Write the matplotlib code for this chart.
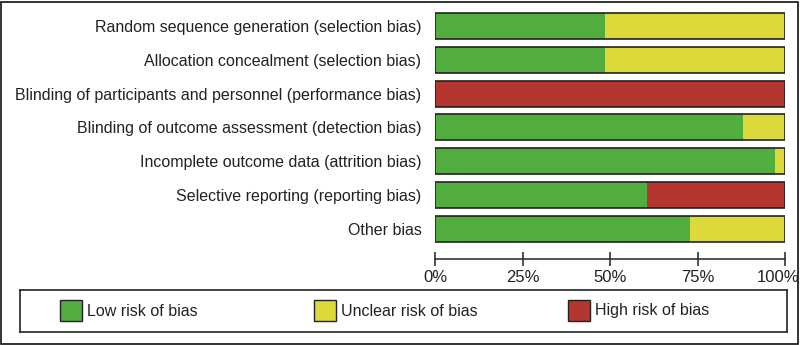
import matplotlib.pyplot as plt
from matplotlib.patches import Rectangle
from matplotlib.transforms import ScaledTranslation

plt.rcParams['font.family'] = ['Liberation Sans', 'DejaVu Sans']

# risk of bias summary, number of studies (33 in total) per judgement
domains = [
    "Random sequence generation (selection bias)",
    "Allocation concealment (selection bias)",
    "Blinding of participants and personnel (performance bias)",
    "Blinding of outcome assessment (detection bias)",
    "Incomplete outcome data (attrition bias)",
    "Selective reporting (reporting bias)",
    "Other bias",
]
low = [16, 16, 0, 29, 32, 20, 24]
unclear = [17, 17, 0, 4, 1, 0, 9]
high = [0, 0, 33, 0, 0, 13, 0]

labels = ["Low risk of bias", "Unclear risk of bias", "High risk of bias"]
colors = ["#52ad3f", "#dcd93b", "#b5352f"]

ticks = [0, 25, 50, 75, 100]
tick_labels = ["0%", "25%", "50%", "75%", "100%"]

W, H = 800, 345
fig = plt.figure(figsize=(W / 100, H / 100), dpi=100)

# figure frame
fig.patches.append(Rectangle((1 / W, 1 / H), 797 / W, 342 / H, transform=fig.transFigure,
                             fill=False, edgecolor="#111111", linewidth=1.2))

ax = fig.add_axes([435.3 / W, 1 - 259 / H, 350 / W, 250 / H])
ax.set_xlim(0, 100)
ax.set_ylim(6.887, -0.5)

n = [l + u + h for l, u, h in zip(low, unclear, high)]
pos = range(len(domains))
left = [0] * len(domains)
for vals, c in zip([low, unclear, high], colors):
    pct = [100 * v / t for v, t in zip(vals, n)]
    ax.barh(pos, pct, left=left, height=0.77, color=c, edgecolor="none")
    left = [a + b for a, b in zip(left, pct)]
# bar outlines
ax.barh(pos, [100] * len(domains), height=0.77, fill=False, edgecolor="#222222", linewidth=1.2)

ax.set_yticks(list(pos))
ax.set_yticklabels(domains, fontsize=11.5, color="#222222")
ax.tick_params(axis="y", length=0, pad=10)
ax.set_xticks(ticks)
ax.set_xticklabels(tick_labels, fontsize=12, color="#222222")
ax.tick_params(axis="x", direction="inout", length=10, width=1.2, color="#333333", pad=3)
# last label is pulled in so it stays inside the frame
last = ax.get_xticklabels()[-1]
last.set_transform(last.get_transform() + ScaledTranslation(-7.5 / 100, 0, fig.dpi_scale_trans))
for s in ["top", "right", "left"]:
    ax.spines[s].set_visible(False)
ax.spines["bottom"].set_linewidth(1.2)
ax.spines["bottom"].set_color("#333333")

# legend box
lax = fig.add_axes([20 / W, 1 - 332 / H, 767 / W, 42 / H])
lax.set_xlim(20, 787)
lax.set_ylim(332, 290)
lax.set_xticks([])
lax.set_yticks([])
for s in lax.spines.values():
    s.set_linewidth(1.2)
    s.set_color("#222222")
for x0, lab, c in zip([60, 314, 568], labels, colors):
    lax.add_patch(Rectangle((x0, 300), 22, 21, facecolor=c, edgecolor="#222222", linewidth=1))
    lax.text(x0 + 27, 311, lab, fontsize=11.5, color="#222222", va="center", ha="left")

fig.savefig("out.png", dpi=100)
